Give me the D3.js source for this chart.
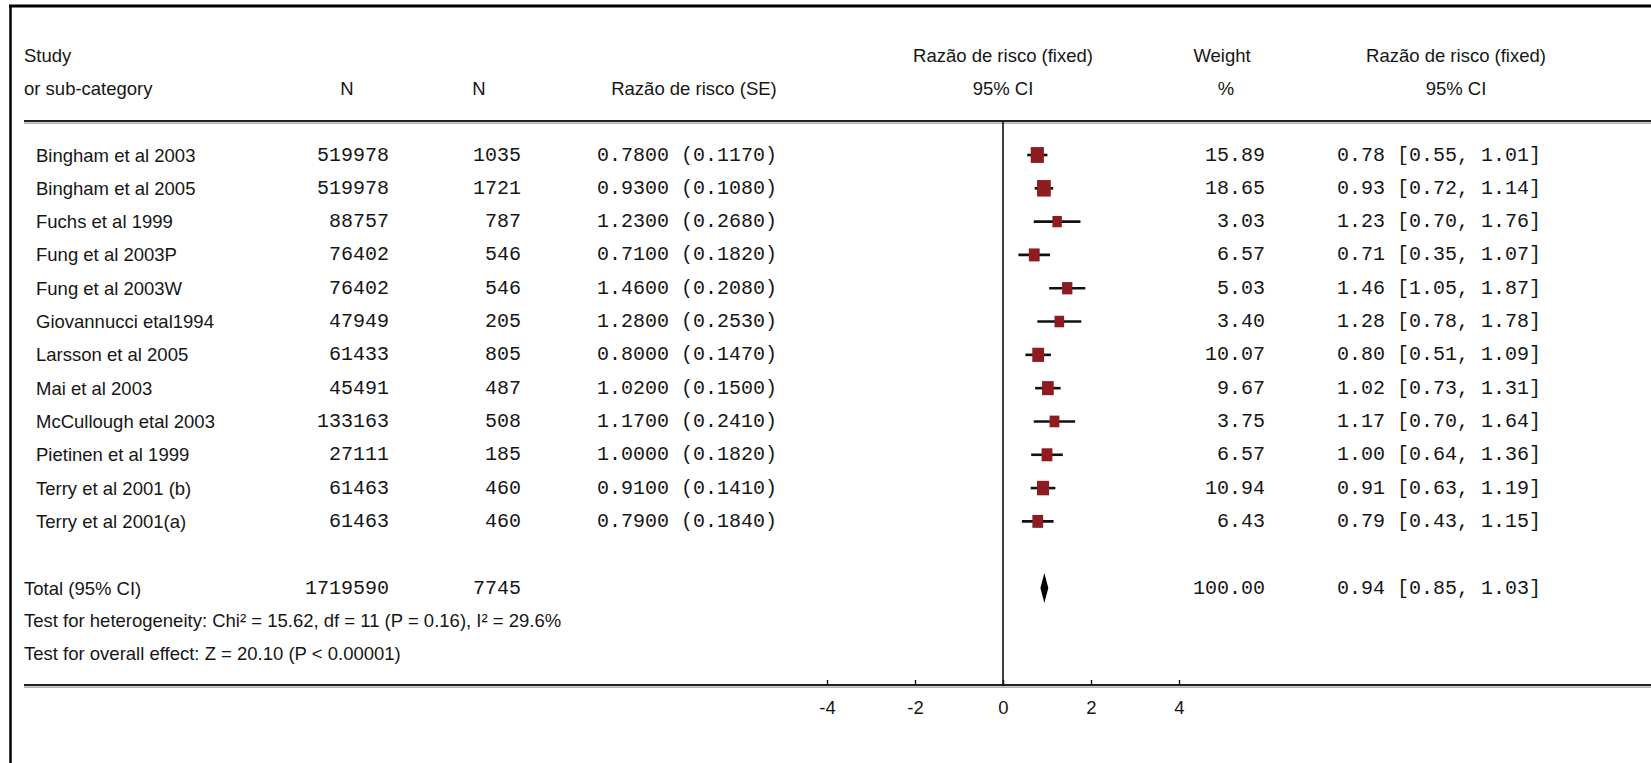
<!DOCTYPE html>
<html>
<head>
<meta charset="utf-8">
<script src="https://cdn.jsdelivr.net/npm/d3@7"></script>
<style>
  html, body { margin: 0; padding: 0; background: #fff; }
  svg { display: block; }
  .sans { font-family: "Liberation Sans", Arial, sans-serif; font-size: 18.5px; fill: #161616; }
  .mono { font-family: "Liberation Mono", "Courier New", monospace; font-size: 20px; fill: #161616; }
</style>
</head>
<body>
<script>
// ---- data ----
const studies = ["Bingham et al 2003", "Bingham et al 2005", "Fuchs et al 1999", "Fung et al 2003P",
  "Fung et al 2003W", "Giovannucci etal1994", "Larsson  et al 2005", "Mai et al 2003",
  "McCullough etal 2003", "Pietinen et al 1999", "Terry et al 2001 (b)", "Terry et al 2001(a)"];
const nGroup1 = [519978, 519978, 88757, 76402, 76402, 47949, 61433, 45491, 133163, 27111, 61463, 61463];
const nGroup2 = [1035, 1721, 787, 546, 546, 205, 805, 487, 508, 185, 460, 460];
const riskRatio = [0.78, 0.93, 1.23, 0.71, 1.46, 1.28, 0.80, 1.02, 1.17, 1.00, 0.91, 0.79];
const stdError = [0.117, 0.108, 0.268, 0.182, 0.208, 0.253, 0.147, 0.150, 0.241, 0.182, 0.141, 0.184];
const weights = [15.89, 18.65, 3.03, 6.57, 5.03, 3.40, 10.07, 9.67, 3.75, 6.57, 10.94, 6.43];
const ciLow = [0.55, 0.72, 0.70, 0.35, 1.05, 0.78, 0.51, 0.73, 0.70, 0.64, 0.63, 0.43];
const ciHigh = [1.01, 1.14, 1.76, 1.07, 1.87, 1.78, 1.09, 1.31, 1.64, 1.36, 1.19, 1.15];
const totalLabel = "Total (95% CI)";
const totalN1 = 1719590, totalN2 = 7745;
const totalRR = 0.94, totalLow = 0.85, totalHigh = 1.03, totalWeight = 100.00;
const heterogeneityText = "Test for heterogeneity: Chi\u00B2 = 15.62, df = 11 (P = 0.16), I\u00B2 = 29.6%";
const overallText = "Test for overall effect: Z = 20.10 (P < 0.00001)";
const axisTicks = [-4, -2, 0, 2, 4];

// ---- layout ----
const W = 1651, H = 763;
const svg = d3.select("body").append("svg").attr("width", W).attr("height", H);

const x = d3.scaleLinear().domain([-4, 4]).range([827, 1179]);
const y = d3.scaleLinear().domain([0, 13]).range([155, 588]);
const boxW = d3.scaleSqrt().domain([0, 20]).range([6.5, 14]);

// borders
svg.append("line").attr("x1", 9).attr("x2", W).attr("y1", 6).attr("y2", 6)
  .attr("stroke", "#000").attr("stroke-width", 3);
svg.append("line").attr("x1", 10.5).attr("x2", 10.5).attr("y1", 5).attr("y2", H)
  .attr("stroke", "#000").attr("stroke-width", 2.5);

// header
const hdr = svg.append("g");
function htext(tx, ty, str, anchor) {
  hdr.append("text").attr("class", "sans").attr("x", tx).attr("y", ty)
    .attr("text-anchor", anchor || "middle").attr("dominant-baseline", "central").text(str);
}
htext(24, 55, "Study", "start");
htext(24, 88, "or sub-category", "start");
htext(347, 88, "N");
htext(479, 88, "N");
htext(694, 88, "Raz\u00E3o de risco (SE)");
htext(x(0), 55, "Raz\u00E3o de risco (fixed)");
htext(x(0), 88, "95% CI");
htext(1222, 55, "Weight");
htext(1226, 88, "%");
htext(1456, 55, "Raz\u00E3o de risco (fixed)");
htext(1456, 88, "95% CI");

// header rule (double-ish)
svg.append("line").attr("x1", 24).attr("x2", W).attr("y1", 121).attr("y2", 121)
  .attr("stroke", "#222").attr("stroke-width", 2.2);
svg.append("line").attr("x1", 24).attr("x2", W).attr("y1", 123.2).attr("y2", 123.2)
  .attr("stroke", "#999").attr("stroke-width", 1.2);

// zero line
svg.append("line").attr("x1", x(0)).attr("x2", x(0)).attr("y1", 122).attr("y2", 686)
  .attr("stroke", "#111").attr("stroke-width", 1.6);

// rows
const fmt2 = d3.format(".2f"), fmt4 = d3.format(".4f");
const rows = studies.map((s, i) => ({
  name: s, n1: nGroup1[i], n2: nGroup2[i], rr: riskRatio[i], se: stdError[i],
  w: weights[i], lo: ciLow[i], hi: ciHigh[i], i
}));

const rowG = svg.append("g");
rows.forEach(d => {
  const cy = y(d.i);
  rowG.append("text").attr("class", "sans").attr("x", 36).attr("y", cy)
    .attr("dominant-baseline", "central").text(d.name);
  rowG.append("text").attr("class", "mono").attr("x", 389).attr("y", cy)
    .attr("text-anchor", "end").attr("dominant-baseline", "central").text(d.n1);
  rowG.append("text").attr("class", "mono").attr("x", 521).attr("y", cy)
    .attr("text-anchor", "end").attr("dominant-baseline", "central").text(d.n2);
  rowG.append("text").attr("class", "mono").attr("x", 597).attr("y", cy)
    .attr("dominant-baseline", "central").text(fmt4(d.rr) + " (" + fmt4(d.se) + ")");
  rowG.append("text").attr("class", "mono").attr("x", 1265).attr("y", cy)
    .attr("text-anchor", "end").attr("dominant-baseline", "central").text(fmt2(d.w));
  rowG.append("text").attr("class", "mono").attr("x", 1337).attr("y", cy)
    .attr("dominant-baseline", "central")
    .text(fmt2(d.rr) + " [" + fmt2(d.lo) + ", " + fmt2(d.hi) + "]");
  // CI line
  rowG.append("line").attr("x1", x(d.lo)).attr("x2", x(d.hi)).attr("y1", cy).attr("y2", cy)
    .attr("stroke", "#111").attr("stroke-width", 2.6);
  // box
  const bw = boxW(d.w), bh = bw * 1.2;
  rowG.append("rect").attr("x", x(d.rr) - bw / 2).attr("y", cy - bh / 2)
    .attr("width", bw).attr("height", bh).attr("fill", "#8e1b1f");
});

// total row
const ty = y(13);
svg.append("text").attr("class", "sans").attr("x", 24).attr("y", ty)
  .attr("dominant-baseline", "central").text(totalLabel);
svg.append("text").attr("class", "mono").attr("x", 389).attr("y", ty)
  .attr("text-anchor", "end").attr("dominant-baseline", "central").text(totalN1);
svg.append("text").attr("class", "mono").attr("x", 521).attr("y", ty)
  .attr("text-anchor", "end").attr("dominant-baseline", "central").text(totalN2);
svg.append("text").attr("class", "mono").attr("x", 1265).attr("y", ty)
  .attr("text-anchor", "end").attr("dominant-baseline", "central").text(fmt2(totalWeight));
svg.append("text").attr("class", "mono").attr("x", 1337).attr("y", ty)
  .attr("dominant-baseline", "central")
  .text(fmt2(totalRR) + " [" + fmt2(totalLow) + ", " + fmt2(totalHigh) + "]");
svg.append("path")
  .attr("d", d3.line()([[x(totalLow), ty], [x(totalRR), ty - 15], [x(totalHigh), ty], [x(totalRR), ty + 15]]) + "Z")
  .attr("fill", "#000");

svg.append("text").attr("class", "sans").attr("x", 24).attr("y", 620)
  .attr("dominant-baseline", "central").text(heterogeneityText);
svg.append("text").attr("class", "sans").attr("x", 24).attr("y", 653)
  .attr("dominant-baseline", "central").text(overallText);

// axis rule
svg.append("line").attr("x1", 24).attr("x2", W).attr("y1", 685).attr("y2", 685)
  .attr("stroke", "#222").attr("stroke-width", 2.2);
svg.append("line").attr("x1", 24).attr("x2", W).attr("y1", 687.2).attr("y2", 687.2)
  .attr("stroke", "#999").attr("stroke-width", 1.2);

const axis = d3.axisTop(x).tickValues(axisTicks).tickSize(6).tickFormat(d3.format("d"));
const axG = svg.append("g").attr("transform", "translate(0,686)").call(axis);
axG.select(".domain").remove();
axG.selectAll(".tick line").attr("stroke", "#111").attr("stroke-width", 1.4);
axG.selectAll(".tick text").attr("class", "sans").attr("y", 21).attr("dy", null)
  .attr("dominant-baseline", "central").style("font-family", "'Liberation Sans', Arial, sans-serif")
  .style("font-size", "18.5px").attr("fill", "#161616")
  .text(d => d < 0 ? "-" + Math.abs(d) : d);
</script>
</body>
</html>
